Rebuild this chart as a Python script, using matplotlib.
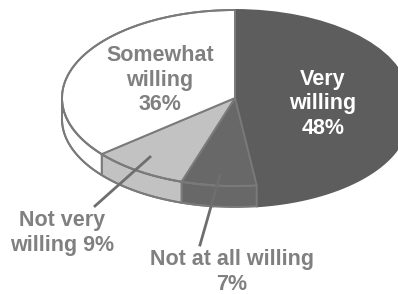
import numpy as np
import matplotlib
matplotlib.use("Agg")
import matplotlib.pyplot as plt
from matplotlib.patches import Polygon

# survey answers, clockwise from 12 o'clock
labels = ["Very willing", "Not at all willing", "Not very willing", "Somewhat willing"]
shares = [48, 7, 9, 36]
top_colors = ["#5d5d5d", "#686868", "#c2c2c2", "#ffffff"]
side_colors = ["#5d5d5d", "#686868", "#c2c2c2", "#ffffff"]

W, H = 398, 294
cx, cy = 235, 98      # pixel centre of the top face
rx, ry = 173, 88      # pixel radii of the ellipse
depth = 21 / ry       # thickness, in y units
edge = "#7a7a7a"

fig = plt.figure(figsize=(W / 100, H / 100), dpi=100)
ax = fig.add_axes([0, 0, 1, 1])

# side walls (front half only)
start = 90.0
for val, col in zip(shares, side_colors):
    a0 = start - val * 3.6
    a1 = start
    start = a0
    lo, hi = max(a0, 180), min(a1, 360)
    if a1 <= 180:
        lo, hi = max(a0 + 360, 180), min(a1 + 360, 360)
    if hi <= lo:
        continue
    t = np.radians(np.linspace(lo, hi, 60))
    xs, ys = np.cos(t), np.sin(t)
    pts = np.concatenate([np.c_[xs, ys], np.c_[xs[::-1], ys[::-1] - depth]])
    ax.add_patch(Polygon(pts, closed=True, facecolor=col,
                         edgecolor=edge if col != "#5d5d5d" else col,
                         lw=1.4, zorder=1))
# outline of the bottom rim, except under the dark slice
t = np.radians(np.linspace(180, 270 - 7.2, 80))
ax.plot(np.cos(t), np.sin(t) - depth, color=edge, lw=1.4, zorder=2)

wedges, _ = ax.pie(shares, colors=top_colors, startangle=90, counterclock=False,
                   radius=1, wedgeprops=dict(edgecolor=edge, linewidth=1.4))
for w, c in zip(wedges, top_colors):
    w.set_zorder(3)
    if c == "#5d5d5d":
        w.set_edgecolor(c)
# outline of the light part of the top rim
t = np.radians(np.linspace(90, 270 - 7.2, 120))
ax.plot(np.cos(t), np.sin(t), color=edge, lw=1.4, zorder=4)

ax.set_aspect("auto")
ax.set_xlim(-cx / rx, (W - cx) / rx)
ax.set_ylim(-(H - cy) / ry, cy / ry)
ax.axis("off")

def fx(x):
    return x / W

def fy(y):
    return 1 - y / H

font = dict(family=["Liberation Sans", "DejaVu Sans"], weight="bold", fontsize=15.5,
            ha="center", va="center", linespacing=1.2)
gray = "#808080"
fig.text(fx(160), fy(80), "Somewhat\nwilling\n36%", color=gray, **font)
fig.text(fx(323), fy(104), "Very\nwilling\n48%", color="white", **font)
fig.text(fx(62), fy(233), "Not very\nwilling 9%", color=gray, **font)
fig.text(fx(232), fy(272), "Not at all willing\n7%", color=gray, **font)

# leader lines
for (x0, y0), (x1, y1) in [((95, 206), (150, 157)), ((200, 245), (220, 175))]:
    fig.add_artist(plt.Line2D([fx(x0), fx(x1)], [fy(y0), fy(y1)],
                              color="#6e6e6e", lw=2, transform=fig.transFigure))

fig.savefig("out.png", dpi=100, facecolor="white")
